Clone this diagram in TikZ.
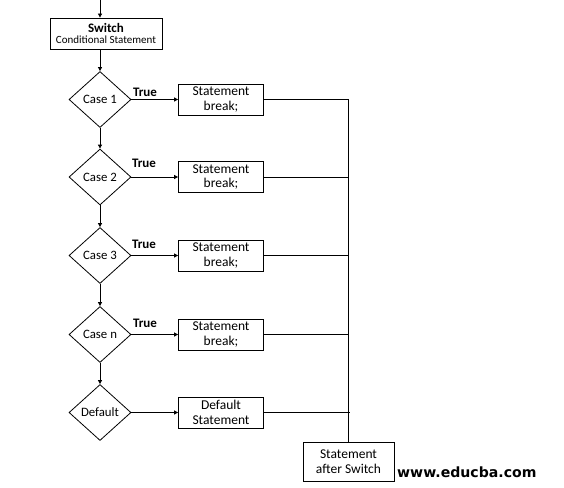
\documentclass[tikz,border=0pt]{standalone}
\usepackage{fontspec}
\setmainfont{Carlito}
\newfontfamily\wmfont{DejaVu Sans}
\usetikzlibrary{shapes.geometric,arrows.meta}
\begin{document}
\begin{tikzpicture}[x=1pt,y=-1pt,
  every node/.style={font=\fontsize{12}{13}\selectfont},
  sbox/.style={draw, line width=0.8pt, minimum width=85pt, minimum height=31pt, inner sep=0pt, align=center, font=\fontsize{13.5}{14.5}\selectfont},
  dia/.style={diamond, draw, line width=0.8pt, minimum width=62pt, minimum height=56pt, inner sep=0pt, font=\fontsize{12.8}{13}\selectfont},
  conn/.style={line width=0.8pt},
  arr/.style={line width=0.8pt, -{Triangle[length=4pt,width=4pt]}},
  tlab/.style={font=\bfseries\fontsize{13}{13}\selectfont}
]
\useasboundingbox (0,0) rectangle (564,487);
\coordinate (top) at (100,0);
\node[draw, line width=0.8pt, minimum width=112pt, minimum height=31pt, inner sep=0pt, align=center] (sw) at (106,33.5)
  {{\bfseries\fontsize{13}{12}\selectfont Switch}\\[-1.5pt]{\fontsize{11}{11}\selectfont Conditional Statement}};
\node[dia] (c1) at (100,99.5) {Case 1};
\node[dia] (c2) at (100,177) {Case 2};
\node[dia] (c3) at (100,255.5) {Case 3};
\node[dia] (cn) at (100,334.5) {Case n};
\node[dia] (cd) at (100,412.5) {Default};
\node[sbox] (s1) at (221,99.5) {Statement\\break;};
\node[sbox] (s2) at (221,177) {Statement\\break;};
\node[sbox] (s3) at (221,255.5) {Statement\\break;};
\node[sbox] (sn) at (221,334.5) {Statement\\break;};
\node[sbox] (sd) at (221,412.5) {Default\\Statement};
\node[draw, line width=0.8pt, minimum width=91pt, minimum height=39pt, inner sep=0pt, align=center, font=\fontsize{13.5}{14.5}\selectfont] (after) at (348.5,461.5) {Statement\\after Switch};
\node[font=\wmfont\bfseries\fontsize{14.1}{15}\selectfont, anchor=west, inner sep=0pt] (wm) at (397,472) {www.educba.com};
\node[tlab] (t1) at (145,92) {True};
\node[tlab] (t2) at (144,163) {True};
\node[tlab] (t3) at (144,244) {True};
\node[tlab] (tn) at (145,323) {True};
\coordinate (r1) at (348.5,99.5);
\coordinate (r2) at (348.5,177);
\coordinate (r3) at (348.5,255.5);
\coordinate (rn) at (348.5,334.5);
\coordinate (rd) at (350,412.5);
\draw[arr] (top) -- (top |- sw.north);
\draw[arr] (c1.north |- sw.south) -- (c1.north);
\draw[arr] (c1.south) -- (c2.north);
\draw[arr] (c2.south) -- (c3.north);
\draw[arr] (c3.south) -- (cn.north);
\draw[arr] (cn.south) -- (cd.north);
\draw[arr] (c1.east) -- (s1.west);
\draw[arr] (c2.east) -- (s2.west);
\draw[arr] (c3.east) -- (s3.west);
\draw[arr] (cn.east) -- (sn.west);
\draw[arr] (cd.east) -- (sd.west);
\draw[conn] (s1.east) -- (r1);
\draw[conn] (s2.east) -- (r2);
\draw[conn] (s3.east) -- (r3);
\draw[conn] (sn.east) -- (rn);
\draw[conn] (sd.east) -- (rd);
\draw[conn] (r1) -- (after.north);
\end{tikzpicture}
\end{document}
